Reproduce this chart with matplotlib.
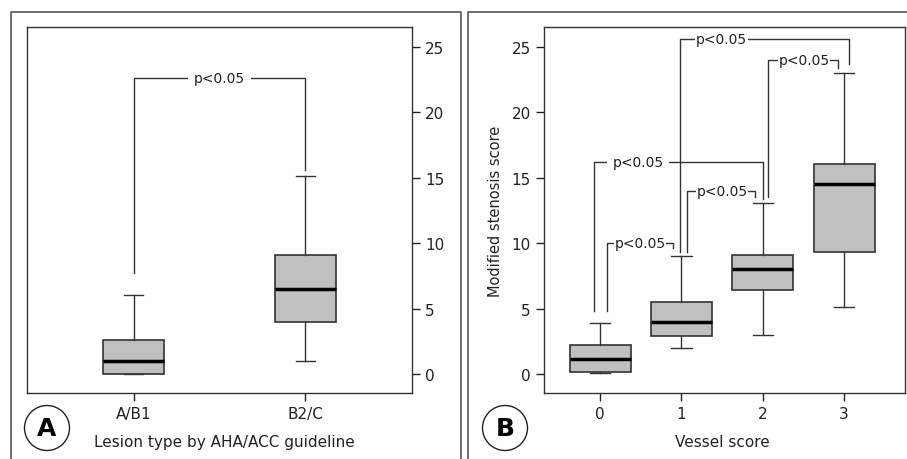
import numpy as np
import matplotlib
matplotlib.use("Agg")
import matplotlib.pyplot as plt
from matplotlib.lines import Line2D
from matplotlib.patches import Circle

plt.rcParams['font.family'] = ['DejaVu Sans']

# panel A: lesion type
a_labels = ['A/B1', 'B2/C']
a_whislo = [0.0, 1.0]
a_q1 = [0.0, 4.0]
a_med = [1.0, 6.5]
a_q3 = [2.6, 9.1]
a_whishi = [6.0, 15.1]

# panel B: vessel score
b_labels = ['0', '1', '2', '3']
b_whislo = [0.1, 2.0, 3.0, 5.1]
b_q1 = [0.15, 2.9, 6.45, 9.3]
b_med = [1.15, 4.0, 8.05, 14.5]
b_q3 = [2.2, 5.5, 9.1, 16.0]
b_whishi = [3.9, 9.05, 13.05, 23.0]

# brackets: x_left, x_right, y_top, y_left_end, y_right_end, x_text
a_brackets = [(1.0, 2.0, 22.6, 7.7, 15.6, 1.5)]
b_brackets = [
    (0.086, 0.90, 10.0, 4.8, 9.6, 0.49),
    (1.07, 1.91, 14.0, 9.3, 13.5, 1.50),
    (2.07, 2.92, 24.0, 13.5, 23.4, 2.51),
    (-0.07, 2.0, 16.2, 4.8, 13.4, 0.47),
    (0.98, 3.06, 25.6, 9.3, 23.7, 1.49),
]
b_pads = [0.5, 0.5, 0.5, 4.0, 0.5]

W, H = 907, 460
fig = plt.figure(figsize=(W / 100, H / 100), dpi=100)

line_col = '#333333'


def make_stats(labels, lo, q1, med, q3, hi):
    out = []
    for i in range(len(labels)):
        out.append(dict(label=labels[i], whislo=lo[i], q1=q1[i], med=med[i],
                        q3=q3[i], whishi=hi[i], fliers=[]))
    return out


def draw_box(ax, stats, pos, width, capw):
    ax.bxp(stats, positions=pos, widths=width, capwidths=capw,
           patch_artist=True, showfliers=False,
           boxprops=dict(facecolor='#c0c0c0', edgecolor=line_col, linewidth=1.2),
           medianprops=dict(color='black', linewidth=2.5),
           whiskerprops=dict(color=line_col, linewidth=1),
           capprops=dict(color=line_col, linewidth=1))


def draw_bracket(ax, br, pad):
    x1, x2, yt, yl, yr, xt = br
    ax.plot([x1, x1, x2, x2], [yl, yt, yt, yr], color=line_col, lw=1)
    ax.text(xt, yt, 'p<0.05', ha='center', va='center', fontsize=10,
            color='#222222',
            bbox=dict(facecolor='white', edgecolor='none', pad=pad))


def style_axes(ax):
    for s in ax.spines.values():
        s.set_color(line_col)
        s.set_linewidth(1)
    ax.tick_params(colors='#222222', labelsize=11, length=6, width=1)


# ---- panel A
axA = fig.add_axes([27 / W, 66 / H, 385 / W, 366 / H])
draw_box(axA, make_stats(a_labels, a_whislo, a_q1, a_med, a_q3, a_whishi),
         [1, 2], 0.35, 0.11)
for br in a_brackets:
    draw_bracket(axA, br, 4.0)
axA.set_xlim(0.38, 2.62)
axA.set_ylim(-1.45, 26.5)
axA.set_yticks([0, 5, 10, 15, 20, 25])
axA.yaxis.tick_right()
axA.set_xticks([1, 2])
axA.set_xticklabels(a_labels)
style_axes(axA)

# ---- panel B
axB = fig.add_axes([544 / W, 66 / H, 361 / W, 366 / H])
draw_box(axB, make_stats(b_labels, b_whislo, b_q1, b_med, b_q3, b_whishi),
         [0, 1, 2, 3], 0.75, 0.25)
for br, p in zip(b_brackets, b_pads):
    draw_bracket(axB, br, p)
axB.set_xlim(-0.69, 3.75)
axB.set_ylim(-1.45, 26.5)
axB.set_yticks([0, 5, 10, 15, 20, 25])
axB.set_xticks([0, 1, 2, 3])
axB.set_xticklabels(b_labels)
axB.set_ylabel('Modified stenosis score', fontsize=10.5, color='#222222',
               labelpad=6)
style_axes(axB)

# axis titles under panels
fig.text(224 / W, 1 - 443 / H, 'Lesion type by AHA/ACC guideline',
         ha='center', va='center', fontsize=11, color='#222222')
fig.text(722 / W, 1 - 443 / H, 'Vessel score',
         ha='center', va='center', fontsize=11, color='#222222')

# panel frames
frame_col = '#555555'
for xs, ys in [([11, 11, 461, 461], [460, 13, 13, 460]),
               ([468, 468, 907], [460, 13, 13])]:
    fig.add_artist(Line2D([x / W for x in xs], [1 - y / H for y in ys],
                          transform=fig.transFigure, color=frame_col, lw=1.2))

# circled panel letters
for cx, letter in [(47, 'A'), (505, 'B')]:
    fig.add_artist(Circle((cx / 100, (H - 429) / 100), 0.225,
                          transform=fig.dpi_scale_trans, facecolor='white',
                          edgecolor='#222222', lw=1))
    fig.text(cx / W, 1 - 429 / H, letter, ha='center', va='center',
             fontsize=18, fontweight='bold', color='black')

fig.savefig('out.png', dpi=100)
